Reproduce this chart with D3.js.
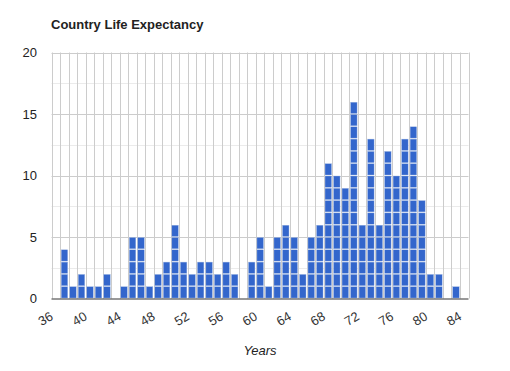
<!DOCTYPE html>
<html>
<head>
<meta charset="utf-8">
<script src="https://cdn.jsdelivr.net/npm/d3@7"></script>
<style>
  body { margin: 0; background: #fff; }
  text { font-family: "Liberation Sans", Arial, sans-serif; }
</style>
</head>
<body>
<svg id="chart" width="510" height="371"></svg>
<script>
// histogram bins: one per year, starting at 36
const binStarts = d3.range(36, 85);
const binCounts = [
  0, 4, 1, 2, 1, 1, 2, 0, 1, 5,   // 36-45
  5, 1, 2, 3, 6, 3, 2, 3, 3, 2,   // 46-55
  3, 2, 0, 3, 5, 1, 5, 6, 5, 2,   // 56-65
  5, 6, 11, 10, 9, 16, 6, 13, 6, 12, // 66-75
  10, 13, 14, 8, 2, 2, 0, 1, 0    // 76-84
];
const xTicks = [36, 40, 44, 48, 52, 56, 60, 64, 68, 72, 76, 80, 84];
const yTicks = [0, 5, 10, 15, 20];
const yMinor = [2.5, 7.5, 12.5, 17.5];

const svg = d3.select("#chart");
const margins = { left: 51.5, right: 468.5, top: 52.5, bottom: 298.5 };

const x = d3.scaleLinear().domain([36, 85]).range([margins.left, margins.right]);
const y = d3.scaleLinear().domain([0, 20]).range([margins.bottom, margins.top]);

// minor horizontal grid
svg.append("g").attr("class", "minor-grid")
  .selectAll("line").data(yMinor).join("line")
  .attr("x1", margins.left).attr("x2", margins.right)
  .attr("y1", d => Math.round(y(d)) + 0.5).attr("y2", d => Math.round(y(d)) + 0.5)
  .attr("stroke", "#ebebeb");

// vertical grid, every year
svg.append("g").attr("class", "vgrid")
  .selectAll("line").data(d3.range(36, 86)).join("line")
  .attr("x1", d => Math.round(x(d)) + 0.5).attr("x2", d => Math.round(x(d)) + 0.5)
  .attr("y1", margins.top).attr("y2", margins.bottom)
  .attr("stroke", "#cccccc");

// major horizontal grid
svg.append("g").attr("class", "hgrid")
  .selectAll("line").data(yTicks.filter(d => d > 0)).join("line")
  .attr("x1", margins.left).attr("x2", margins.right)
  .attr("y1", d => Math.round(y(d)) + 0.5).attr("y2", d => Math.round(y(d)) + 0.5)
  .attr("stroke", "#cccccc");

// bars, one rect per counted item (stacked units)
const units = [];
binStarts.forEach((b, i) => {
  for (let k = 0; k < binCounts[i]; k++) units.push({ bin: b, k: k });
});
const unitH = y(0) - y(1);
svg.append("g").attr("class", "bars")
  .selectAll("rect").data(units).join("rect")
  .attr("x", d => x(d.bin) + 1.2)
  .attr("width", x(37) - x(36) - 2)
  .attr("y", d => y(d.k + 1) + 0.5)
  .attr("height", unitH - 1)
  .attr("fill", "#3366cc")
  .attr("stroke", "#a9bde3")
  .attr("stroke-width", 0.4);

// baseline
svg.append("line")
  .attr("x1", margins.left).attr("x2", margins.right)
  .attr("y1", y(0) + 0.5).attr("y2", y(0) + 0.5)
  .attr("stroke", "#333333");

// y labels
svg.append("g").selectAll("text").data(yTicks).join("text")
  .attr("x", 37).attr("y", d => y(d) + 4.5)
  .attr("text-anchor", "end")
  .attr("font-size", 13).attr("fill", "#222")
  .text(d => d);

// x labels, slanted
svg.append("g").selectAll("text").data(xTicks).join("text")
  .attr("text-anchor", "end")
  .attr("transform", d => `translate(${x(d) + 2.5},${319}) rotate(-30)`)
  .attr("font-size", 13).attr("fill", "#333")
  .text(d => d);

// titles
svg.append("text")
  .attr("x", 51).attr("y", 29)
  .attr("font-size", 13).attr("font-weight", "bold").attr("fill", "#222")
  .text("Country Life Expectancy");

svg.append("text")
  .attr("x", (margins.left + margins.right) / 2).attr("y", 355)
  .attr("text-anchor", "middle")
  .attr("font-size", 13).attr("font-style", "italic").attr("fill", "#222")
  .text("Years");
</script>
</body>
</html>
